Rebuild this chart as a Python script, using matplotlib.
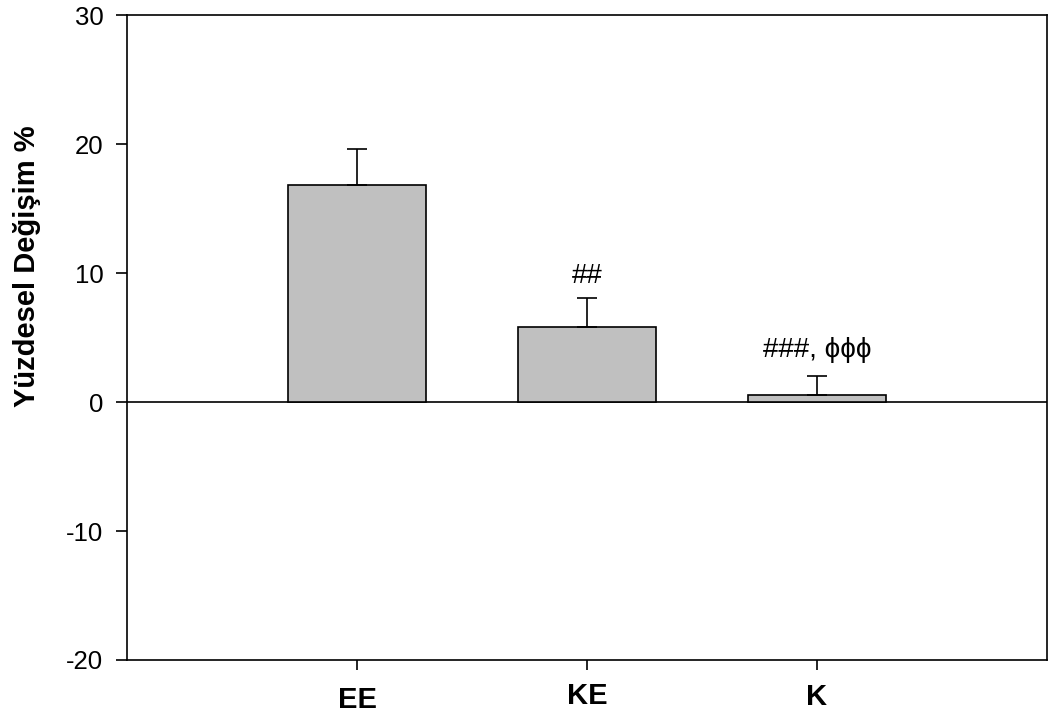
import matplotlib.pyplot as plt
import matplotlib.transforms as mtransforms
import numpy as np

plt.rcParams['font.family'] = ['Liberation Sans', 'DejaVu Sans']
plt.rcParams['axes.unicode_minus'] = False

# data
groups = ['EE', 'KE', 'K']
means = [16.8, 5.8, 0.55]
errors = [2.8, 2.3, 1.5]
marks = ['', '##', '###, ϕϕϕ']
mark_y = [0, 9.8, 4.0]

fig = plt.figure(figsize=(10.5, 7.17), dpi=100)
ax = fig.add_axes([0.121, 0.0795, 0.876, 0.8995])

x = np.arange(1, len(groups) + 1)
ax.bar(x, means, width=0.6, color='#c0c0c0', edgecolor='black', linewidth=1.2, zorder=2)
ax.errorbar(x, means, yerr=[np.zeros(len(errors)), errors], fmt='none',
            ecolor='black', elinewidth=1.2, capsize=7, capthick=1.2, zorder=3)
ax.axhline(0, color='black', linewidth=1.2, zorder=1)

for xi, m, my in zip(x, marks, mark_y):
    if m:
        ax.text(xi, my, m, ha='center', va='center', fontsize=20)

ax.set_xlim(0, 4)
ax.set_ylim(-20, 30)
ax.set_yticks([-20, -10, 0, 10, 20, 30])
ax.set_xticks(x)
ax.set_xticklabels(groups, fontsize=21, fontweight='bold')
ax.tick_params(axis='y', labelsize=18.5, length=8, width=1.2, direction='out', pad=9)
ax.tick_params(axis='x', length=7, width=1.2, direction='out', pad=9)
for s in ax.spines.values():
    s.set_linewidth(1.2)

# small vertical offsets of the group labels, as in the original
label_dy = [-4, 0, -1]
for lab, dy in zip(ax.get_xticklabels(), label_dy):
    lab.set_transform(lab.get_transform() +
                      mtransforms.ScaledTranslation(0, dy / 100, fig.dpi_scale_trans))

fig.text(0.026, 0.629, 'Yüzdesel Değişim %', rotation=90, ha='center', va='center',
         fontsize=21, fontweight='bold')

fig.savefig('out.png', dpi=100)
